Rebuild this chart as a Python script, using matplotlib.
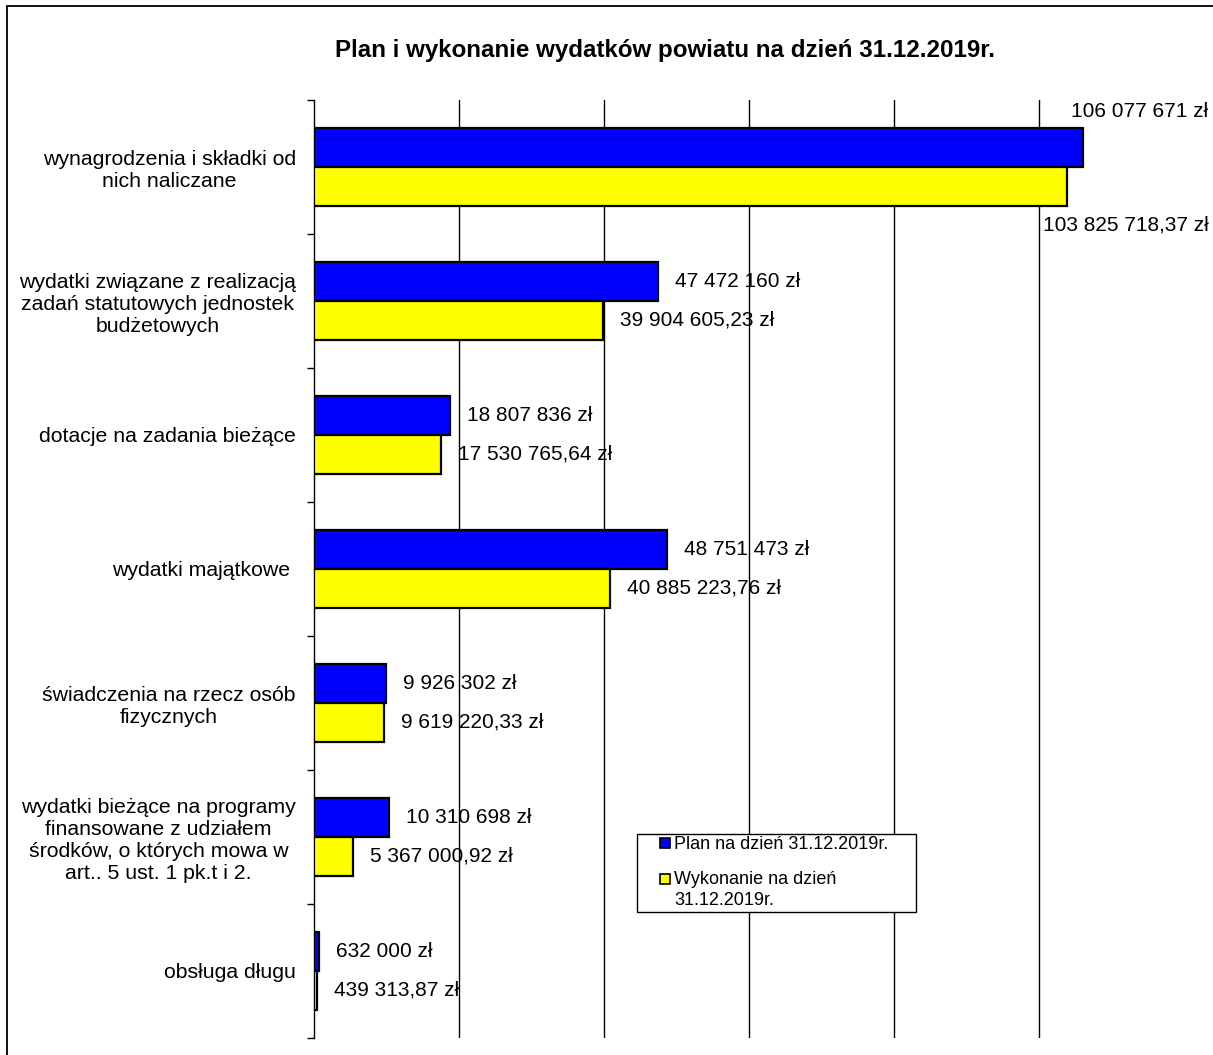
import numpy as np
import matplotlib
matplotlib.use("Agg")
import matplotlib.pyplot as plt
from matplotlib.patches import Rectangle
from matplotlib.legend_handler import HandlerPatch

plt.rcParams["font.family"] = ["Liberation Sans", "DejaVu Sans"]

TITLE = "Plan i wykonanie wydatków powiatu na dzień 31.12.2019r."

CATEGORIES = [
    "wynagrodzenia i składki od\nnich naliczane",
    "wydatki związane z realizacją\nzadań statutowych jednostek\nbudżetowych",
    "dotacje na zadania bieżące",
    "wydatki majątkowe ",
    "świadczenia na rzecz osób\nfizycznych",
    "wydatki bieżące na programy\nfinansowane z udziałem\nśrodków, o których mowa w\nart.. 5 ust. 1 pk.t i 2.",
    "obsługa długu",
]

PLAN = [106077671, 47472160, 18807836, 48751473, 9926302, 10310698, 632000]
WYKONANIE = [103825718.37, 39904605.23, 17530765.64, 40885223.76,
             9619220.33, 5367000.92, 439313.87]

SERIES_NAMES = ["Plan na dzień 31.12.2019r.", "Wykonanie na dzień\n31.12.2019r."]
SERIES_COLORS = ["#0000ff", "#ffff00"]

GRID_TICKS = [20e6, 40e6, 60e6, 80e6, 100e6]
X_MAX = 120e6

W, H = 1213, 1055


def fmt_pln(v, decimals):
    s = f"{v:,.{decimals}f}".replace(",", " ").replace(".", ",")
    return s + " zł"


def make_square(lift):
    def square(legend, orig_handle, xdescent, ydescent, width, height, fontsize):
        size = 0.58 * fontsize
        return Rectangle((width - size - xdescent,
                          (height - size) / 2 - ydescent + lift * fontsize),
                         size, size)
    return square


fig = plt.figure(figsize=(W / 100, H / 100), dpi=100)
ax = fig.add_axes([314 / W, 1 - 1038 / H, 870 / W, 938 / H])

y = np.arange(len(CATEGORIES))
bar_h = 0.29
ax.barh(y - bar_h / 2, PLAN, height=bar_h, color=SERIES_COLORS[0],
        edgecolor="black", linewidth=1.6, zorder=3)
ax.barh(y + bar_h / 2, WYKONANIE, height=bar_h, color=SERIES_COLORS[1],
        edgecolor="black", linewidth=1.6, zorder=3)

for i in range(len(CATEGORIES)):
    if i == 0:
        off_p, off_w = (-12, 36), (-24, -39)
    else:
        off_p, off_w = (17, 0), (17, 0)
    ax.annotate(fmt_pln(PLAN[i], 0), (PLAN[i], y[i] - bar_h / 2),
                xytext=off_p, textcoords="offset pixels",
                ha="left", va="center", fontsize=15, annotation_clip=False, zorder=4)
    ax.annotate(fmt_pln(WYKONANIE[i], 2), (WYKONANIE[i], y[i] + bar_h / 2),
                xytext=off_w, textcoords="offset pixels",
                ha="left", va="center", fontsize=15, annotation_clip=False, zorder=4)

ax.set_xlim(0, X_MAX)
ax.set_ylim(len(CATEGORIES) - 0.5, -0.5)

ax.set_xticks(GRID_TICKS)
ax.tick_params(axis="x", length=0, labelbottom=False)
ax.grid(axis="x", color="black", linewidth=1)
ax.set_axisbelow(True)

ax.set_yticks(np.arange(-0.5, len(CATEGORIES), 1))
ax.set_yticklabels([])
ax.set_yticks(y, minor=True)
ax.set_yticklabels(CATEGORIES, minor=True, fontsize=15.3)
ax.tick_params(axis="y", which="major", length=5, width=1, color="black")
ax.tick_params(axis="y", which="minor", length=0, pad=13)
for lbl in ax.get_yticklabels(minor=True):
    lbl.set_multialignment("center")
    lbl.set_linespacing(1.2)

for side in ["top", "right", "bottom"]:
    ax.spines[side].set_visible(False)
ax.spines["left"].set_color("black")
ax.spines["left"].set_linewidth(1)

h_plan = Rectangle((0, 0), 1, 1, facecolor=SERIES_COLORS[0], edgecolor="black", linewidth=1.2)
h_wyk = Rectangle((0, 0), 1, 1, facecolor=SERIES_COLORS[1], edgecolor="black", linewidth=1.2)
leg = ax.legend([h_plan, h_wyk], SERIES_NAMES,
                handler_map={h_plan: HandlerPatch(patch_func=make_square(0)),
                             h_wyk: HandlerPatch(patch_func=make_square(0.64))},
                loc="lower left", mode="expand",
                bbox_to_anchor=((637 - 314) / 870, (1038 - 912) / 938, 279 / 870, 81 / 938),
                borderaxespad=0, borderpad=0.15, fontsize=13,
                handlelength=1.7, handleheight=0.7, handletextpad=0.2,
                labelspacing=1.0, fancybox=False, framealpha=1)
leg.get_frame().set_edgecolor("black")
leg.get_frame().set_linewidth(1)
for t in leg.get_texts():
    t.set_linespacing(1.3)

fig.text(665 / W, 1 - 57 / H, TITLE, ha="center", va="baseline",
         fontsize=17.4, fontweight="bold")

fig.add_artist(Rectangle((7 / W, -0.1), 1.2, 1 - 6 / H + 0.1,
                         transform=fig.transFigure, fill=False,
                         edgecolor="black", linewidth=1.3))

fig.savefig("out.png", dpi=100, facecolor="white")
